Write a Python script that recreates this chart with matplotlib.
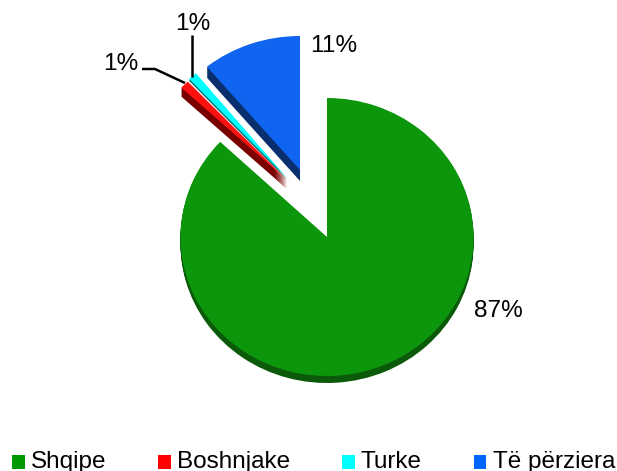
import matplotlib
matplotlib.use("Agg")
import matplotlib.pyplot as plt
from matplotlib.patches import Wedge, Patch
from matplotlib.transforms import Affine2D

categories = ["Shqipe", "Boshnjake", "Turke", "Të përziera"]
values = [87, 1, 1, 11]
labels = ["87%", "1%", "1%", "11%"]
colors = ["#0c960c", "#ff1010", "#00ffff", "#0f64f0"]
shadows = ["#0a5a0a", "#7a0000", "#0a6a6a", "#0a2f6e"]

W, H = 617, 471
fig = plt.figure(figsize=(W / 100, H / 100), dpi=100)
ax = fig.add_axes([0, 0, 1, 1])
ax.set_xlim(0, W)
ax.set_ylim(0, H)
ax.axis("off")
plt.rcParams["font.family"] = ["Liberation Sans", "DejaVu Sans"]

centers = [(327, 237), (287, 180), (287, 178), (300, 170)]
radii = [(146.5, 139), (145, 135), (143, 136), (146, 134)]
depths = [7, 9, 2, 11]
layers = [0, 2, 1, 3]

total = sum(values)
end = 90.0
for v, c, s, (px, py), (rx, ry), d, z in zip(values, colors, shadows, centers, radii, depths, layers):
    start = end - 360.0 * v / total
    tf = lambda y: Affine2D().scale(rx, ry).translate(px, H - y) + ax.transData
    for k in range(d, 0, -1):
        ax.add_patch(Wedge((0, 0), 1, start, end, fc=s, ec="none", transform=tf(py + k), zorder=z + 1))
    ax.add_patch(Wedge((0, 0), 1, start, end, fc=c, ec="none", transform=tf(py), zorder=z + 1))
    end = start

# leader lines
ax.plot([142, 155, 185], [H - 69, H - 69, H - 83], color="black", lw=1.8, solid_capstyle="butt", zorder=6)
ax.plot([192, 192], [H - 35, H - 77], color="black", lw=1.8, solid_capstyle="butt", zorder=6)

fs = 17.6
label_pos = [(498, 311), (121, 64), (193, 24), (334, 46)]
for t, (x, y) in zip(labels, label_pos):
    ax.text(x, H - y, t, fontsize=fs, ha="center", va="center", color="black")

handles = [Patch(fc=c, ec="none") for c in ["#009900", "#ff0000", "#00ffff", "#0066ff"]]
leg = ax.legend(handles, categories, loc="lower left", bbox_to_anchor=(12 / W, -2 / H), ncol=4,
                frameon=False, fontsize=17.5, handlelength=0.52, handleheight=0.52, handletextpad=0.25,
                columnspacing=2.14, borderpad=0, borderaxespad=0)
for h in leg.legend_handles:
    h.set_y(-0.8)

fig.savefig("out.png", dpi=100)
